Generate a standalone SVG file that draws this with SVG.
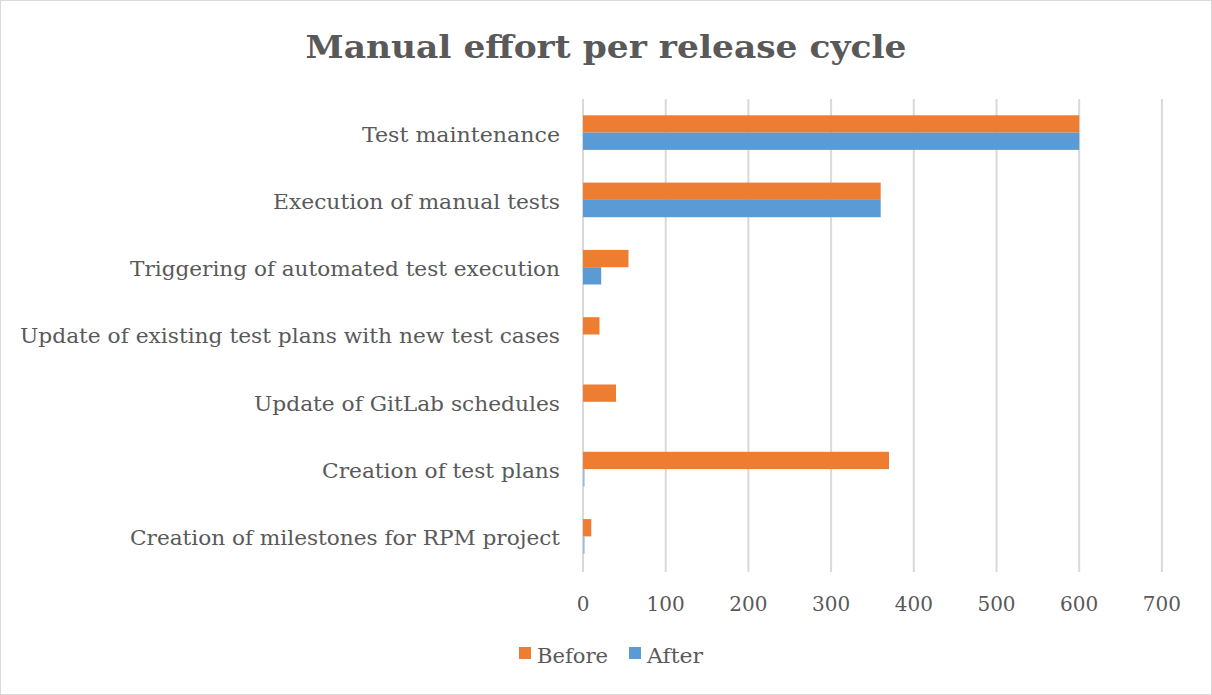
<svg xmlns="http://www.w3.org/2000/svg" width="1212" height="695" viewBox="0 0 1212 695">
  <style>
    .txt { font-family: "DejaVu Serif", "Liberation Serif", serif; fill: #595959; }
    .title { font-size: 32px; font-weight: bold; }
    .cat { font-size: 20px; text-anchor: end; }
    .tick { font-size: 20px; text-anchor: middle; }
    .leg { font-size: 20px; }
    .grid { stroke: #d9d9d9; stroke-width: 2; }
    .before { fill: #ED7D31; }
    .after { fill: #5B9BD5; }
  </style>
  <rect x="0.5" y="0.5" width="1211" height="694" fill="#ffffff" stroke="#d9d9d9" stroke-width="1"/>

  <text class="txt title" x="606" y="58" text-anchor="middle" textLength="601" lengthAdjust="spacingAndGlyphs">Manual effort per release cycle</text>

  <!-- vertical gridlines, 0..700 -->
  <g id="grid">
    <line class="grid" x1="583" y1="99" x2="583" y2="572"/>
    <line class="grid" x1="665.7" y1="99" x2="665.7" y2="572"/>
    <line class="grid" x1="748.4" y1="99" x2="748.4" y2="572"/>
    <line class="grid" x1="831.1" y1="99" x2="831.1" y2="572"/>
    <line class="grid" x1="913.8" y1="99" x2="913.8" y2="572"/>
    <line class="grid" x1="996.5" y1="99" x2="996.5" y2="572"/>
    <line class="grid" x1="1079.2" y1="99" x2="1079.2" y2="572"/>
    <line class="grid" x1="1161.9" y1="99" x2="1161.9" y2="572"/>
  </g>

  <g id="ticks" class="txt tick">
    <text x="583" y="611">0</text>
    <text x="665.7" y="611">100</text>
    <text x="748.4" y="611">200</text>
    <text x="831.1" y="611">300</text>
    <text x="913.8" y="611">400</text>
    <text x="996.5" y="611">500</text>
    <text x="1079.2" y="611">600</text>
    <text x="1161.9" y="611">700</text>
  </g>

  <!-- one group per category: label, Before bar, After bar (0.827 px per unit) -->
  <g id="test-maintenance">
    <text class="txt cat" x="560" y="141.5" textLength="198" lengthAdjust="spacingAndGlyphs">Test maintenance</text>
    <rect class="before" x="583" y="115.3" width="496.2" height="17.3"/>
    <rect class="after" x="583" y="132.6" width="496.2" height="17.3"/>
  </g>
  <g id="execution-manual">
    <text class="txt cat" x="560" y="208.8" textLength="287" lengthAdjust="spacingAndGlyphs">Execution of manual tests</text>
    <rect class="before" x="583" y="182.6" width="297.7" height="17.3"/>
    <rect class="after" x="583" y="199.9" width="297.7" height="17.3"/>
  </g>
  <g id="triggering-automated">
    <text class="txt cat" x="560" y="276.1" textLength="430" lengthAdjust="spacingAndGlyphs">Triggering of automated test execution</text>
    <rect class="before" x="583" y="249.9" width="45.5" height="17.3"/>
    <rect class="after" x="583" y="267.2" width="18.2" height="17.3"/>
  </g>
  <g id="update-test-plans">
    <text class="txt cat" x="560" y="343.4" textLength="540" lengthAdjust="spacingAndGlyphs">Update of existing test plans with new test cases</text>
    <rect class="before" x="583" y="317.2" width="16.5" height="17.3"/>
  </g>
  <g id="update-gitlab">
    <text class="txt cat" x="560" y="410.7" textLength="306" lengthAdjust="spacingAndGlyphs">Update of GitLab schedules</text>
    <rect class="before" x="583" y="384.5" width="33" height="17.3"/>
  </g>
  <g id="creation-test-plans">
    <text class="txt cat" x="560" y="478" textLength="238" lengthAdjust="spacingAndGlyphs">Creation of test plans</text>
    <rect class="before" x="583" y="451.8" width="306" height="17.3"/>
    <rect class="after" x="583" y="469.1" width="1.8" height="17.3" opacity="0.5"/>
  </g>
  <g id="creation-milestones">
    <text class="txt cat" x="560" y="545.3" textLength="430" lengthAdjust="spacingAndGlyphs">Creation of milestones for RPM project</text>
    <rect class="before" x="583" y="519.1" width="8.3" height="17.3"/>
    <rect class="after" x="583" y="536.4" width="1.8" height="17.3" opacity="0.5"/>
  </g>

  <g id="legend">
    <rect class="before" x="519" y="647" width="12" height="12"/>
    <text class="txt leg" x="537" y="663" textLength="71" lengthAdjust="spacingAndGlyphs">Before</text>
    <rect class="after" x="629" y="647" width="12" height="12"/>
    <text class="txt leg" x="647" y="663" textLength="56" lengthAdjust="spacingAndGlyphs">After</text>
  </g>
</svg>
